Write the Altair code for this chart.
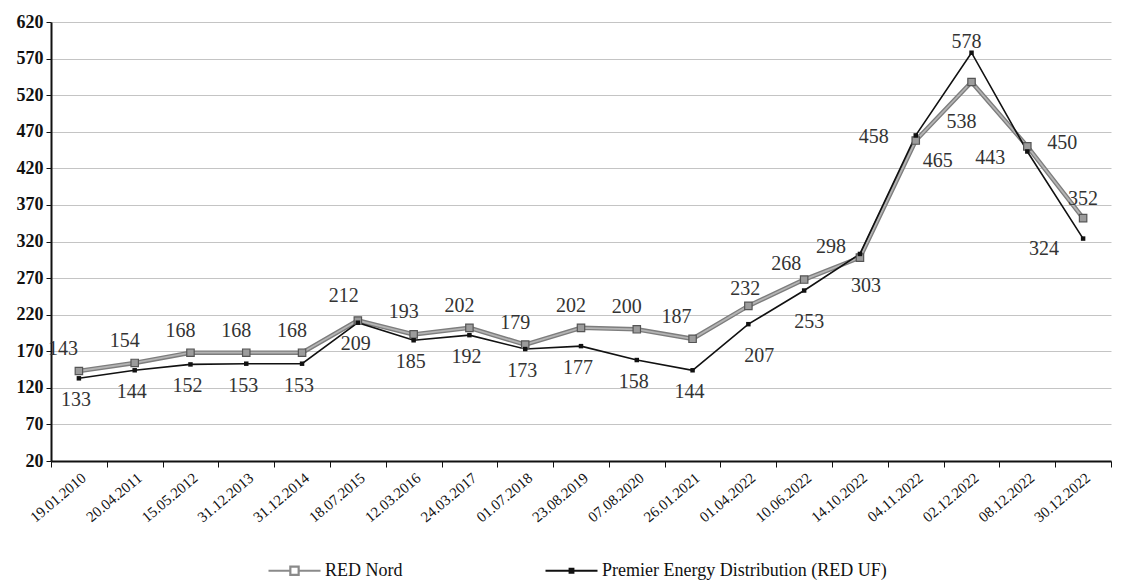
import altair as alt
import pandas as pd

dates = ["19.01.2010", "20.04.2011", "15.05.2012", "31.12.2013", "31.12.2014",
         "18.07.2015", "12.03.2016", "24.03.2017", "01.07.2018", "23.08.2019",
         "07.08.2020", "26.01.2021", "01.04.2022", "10.06.2022", "14.10.2022",
         "04.11.2022", "02.12.2022", "08.12.2022", "30.12.2022"]
red_nord = [143, 154, 168, 168, 168, 212, 193, 202, 179, 202, 200, 187, 232, 268, 298, 458, 538, 450, 352]
red_uf = [133, 144, 152, 153, 153, 209, 185, 192, 173, 177, 158, 144, 207, 253, 303, 465, 578, 443, 324]
series_names = ["RED Nord", "Premier Energy Distribution (RED UF)"]
y_ticks = list(range(20, 621, 50))

rows = []
for i, d in enumerate(dates):
    rows.append({"date": d, "idx": i, "series": series_names[0], "value": red_nord[i], "key": f"N{i}"})
    rows.append({"date": d, "idx": i, "series": series_names[1], "value": red_uf[i], "key": f"U{i}"})
df = pd.DataFrame(rows)

SERIF = "Liberation Serif"

# label nudges (style)
default_off = {"N": (-10, -22), "U": (-3, 22)}
special_off = {
    "N0": (-16, -22), "N5": (-14, -25), "N11": (-16, -22), "N12": (-3, -17), "N13": (-18, -16),
    "N14": (-29, -11), "N15": (-42, -4), "N16": (-10, 40), "N17": (35, -3), "N18": (0, -19),
    "U5": (-2, 21), "U12": (11, 32), "U13": (5, 31), "U14": (6, 32), "U15": (22, 26),
    "U16": (-5, -11), "U17": (-37, 6), "U18": (-39, 10),
}
groups = {}
for k in df["key"]:
    off = special_off.get(k, default_off[k[0]])
    groups.setdefault(off, []).append(k)

x_enc = alt.X("date:N", sort=dates, bandPosition=0.5,
              scale=alt.Scale(type="band", paddingInner=0, paddingOuter=0),
              axis=alt.Axis(title=None, labelAngle=-40, labelFont=SERIF, labelFontSize=15,
                            labelColor="#111", tickBand="extent", tickColor="#111", tickSize=6,
                            domainColor="#111", domainWidth=2, grid=False, labelPadding=3))
y_enc = alt.Y("value:Q", scale=alt.Scale(domain=[20, 620], nice=False, zero=False),
              axis=alt.Axis(title=None, values=y_ticks, labelFont=SERIF, labelFontSize=18,
                            labelColor="#111", labelFontWeight="bold", tickColor="#111", tickSize=5,
                            domainColor="#111", domainWidth=2, gridColor="#c4c4c4",
                            gridWidth=1, labelPadding=3))

base = alt.Chart(df).encode(x=x_enc, y=y_enc)
rn = base.transform_filter(alt.datum.series == series_names[0])
uf = base.transform_filter(alt.datum.series == series_names[1])

layers = [
    rn.mark_line(color="#7d7d7d", strokeWidth=4.5),
    rn.mark_line(color="#b4b4b4", strokeWidth=1.8),
    uf.mark_line(color="#111111", strokeWidth=1.6),
    rn.mark_point(shape="square", size=55, filled=True, fill="#9c9c9c", stroke="#555555",
                  strokeWidth=1.2, opacity=1),
    uf.mark_point(shape="square", size=20, filled=True, color="#111111", opacity=1),
]
for (dx, dy), keys in groups.items():
    layers.append(
        base.transform_filter(alt.FieldOneOfPredicate(field="key", oneOf=keys))
        .mark_text(dx=dx, dy=dy, font=SERIF, fontSize=20, color="#333333",
                   align="center", baseline="middle")
        .encode(text="value:Q")
    )

path_rn = "M-2,0L-0.32,0M0.32,0L2,0M-0.32,-0.32L0.32,-0.32L0.32,0.32L-0.32,0.32Z"
path_uf = "M-2,0L2,0M-0.14,-0.14L0.14,-0.14L0.14,0.14L-0.14,0.14Z"
legend_layer = base.transform_filter("false").mark_point(filled=False, strokeWidth=2.2).encode(
    color=alt.Color("series:N", scale=alt.Scale(domain=series_names, range=["#8a8a8a", "#111111"]),
                    legend=alt.Legend(title=None)),
    shape=alt.Shape("series:N", scale=alt.Scale(domain=series_names, range=[path_rn, path_uf]),
                    legend=alt.Legend(title=None)),
)
layers.append(legend_layer)

chart = alt.layer(*layers).properties(
    width=1060, height=439, background="white",
    padding={"top": 5, "left": 8, "right": 0, "bottom": 0},
).configure_view(stroke=None).configure_legend(
    orient="none", legendX=229, legendY=534, direction="horizontal",
    labelFont=SERIF, labelFontSize=18, labelOffset=16,
    labelColor="#111", labelLimit=600, symbolSize=676, symbolStrokeWidth=2.2,
    columnPadding=138, symbolOpacity=1,
)

chart.save("out.html", embed_options={"renderer": "svg", "actions": False})
